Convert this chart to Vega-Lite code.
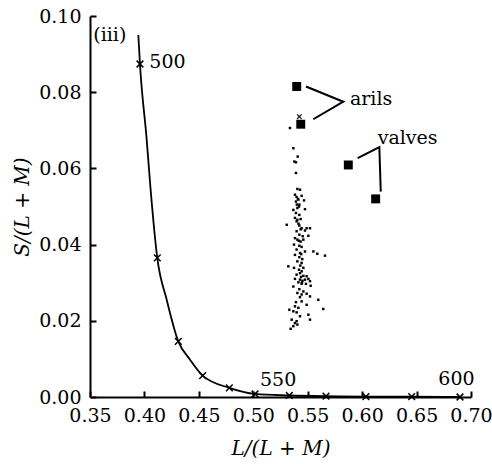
{
  "$schema": "https://vega.github.io/schema/vega-lite/v6.json",
  "width": 381,
  "height": 381,
  "autosize": {"type": "none"},
  "padding": {"left": 90, "top": 16, "right": 21, "bottom": 67},
  "background": "white",
  "config": {
    "view": {"stroke": null},
    "font": "DejaVu Serif",
    "axis": {
      "grid": false,
      "domainColor": "black",
      "domainWidth": 2,
      "tickColor": "black",
      "tickWidth": 2,
      "tickSize": -6,
      "labelPadding": 15,
      "labelOverlap": false,
      "labelFlush": false,
      "labelFont": "DejaVu Serif",
      "labelFontSize": 19,
      "labelColor": "black",
      "titleFont": "DejaVu Serif",
      "titleFontSize": 20,
      "titleFontStyle": "italic",
      "titleFontWeight": "normal",
      "titleColor": "black"
    }
  },
  "datasets": {
    "locus": [
      {"x": 0.3944, "y": 0.0950},
      {"x": 0.3959, "y": 0.0874},
      {"x": 0.4021, "y": 0.0675},
      {"x": 0.4057, "y": 0.0544},
      {"x": 0.4118, "y": 0.0365},
      {"x": 0.4204, "y": 0.0256},
      {"x": 0.4311, "y": 0.0146},
      {"x": 0.4419, "y": 0.0098},
      {"x": 0.4535, "y": 0.0056},
      {"x": 0.4780, "y": 0.0024},
      {"x": 0.5016, "y": 0.0008},
      {"x": 0.5331, "y": 0.0004},
      {"x": 0.5668, "y": 0.0002},
      {"x": 0.6035, "y": 0.0001},
      {"x": 0.6455, "y": 0.0001},
      {"x": 0.6899, "y": 0.0000}
    ],
    "wl": [
      {"nm": 500, "x": 0.3959, "y": 0.0874},
      {"nm": 510, "x": 0.4118, "y": 0.0365},
      {"nm": 520, "x": 0.4311, "y": 0.0146},
      {"nm": 530, "x": 0.4535, "y": 0.0056},
      {"nm": 540, "x": 0.4780, "y": 0.0024},
      {"nm": 550, "x": 0.5016, "y": 0.0008},
      {"nm": 560, "x": 0.5331, "y": 0.0004},
      {"nm": 570, "x": 0.5668, "y": 0.0002},
      {"nm": 580, "x": 0.6035, "y": 0.0001},
      {"nm": 590, "x": 0.6455, "y": 0.0001},
      {"nm": 600, "x": 0.6899, "y": 0.0000}
    ],
    "dots": [
      {"x": 0.5337, "y": 0.0706},
      {"x": 0.5368, "y": 0.0653}, {"x": 0.5408, "y": 0.0631}, {"x": 0.5377, "y": 0.0618}, {"x": 0.5392, "y": 0.0616},
      {"x": 0.5392, "y": 0.0588}, {"x": 0.5405, "y": 0.0546}, {"x": 0.5429, "y": 0.0544}, {"x": 0.5383, "y": 0.0531},
      {"x": 0.5398, "y": 0.0525}, {"x": 0.5414, "y": 0.0518}, {"x": 0.5444, "y": 0.0528}, {"x": 0.5392, "y": 0.0513},
      {"x": 0.5466, "y": 0.0516}, {"x": 0.5423, "y": 0.0505}, {"x": 0.5405, "y": 0.0496}, {"x": 0.5368, "y": 0.0491},
      {"x": 0.5475, "y": 0.0493}, {"x": 0.5392, "y": 0.0483}, {"x": 0.5423, "y": 0.0478}, {"x": 0.5383, "y": 0.0470},
      {"x": 0.5405, "y": 0.0465}, {"x": 0.5435, "y": 0.0467}, {"x": 0.5398, "y": 0.0461}, {"x": 0.5307, "y": 0.0452},
      {"x": 0.5423, "y": 0.0450}, {"x": 0.5444, "y": 0.0443}, {"x": 0.5490, "y": 0.0443}, {"x": 0.5521, "y": 0.0443},
      {"x": 0.5475, "y": 0.0437}, {"x": 0.5398, "y": 0.0435}, {"x": 0.5423, "y": 0.0426}, {"x": 0.5454, "y": 0.0422},
      {"x": 0.5506, "y": 0.0423}, {"x": 0.5383, "y": 0.0417}, {"x": 0.5405, "y": 0.0413}, {"x": 0.5435, "y": 0.0408},
      {"x": 0.5460, "y": 0.0413}, {"x": 0.5374, "y": 0.0400}, {"x": 0.5423, "y": 0.0397}, {"x": 0.5444, "y": 0.0394},
      {"x": 0.5398, "y": 0.0387}, {"x": 0.5429, "y": 0.0378}, {"x": 0.5475, "y": 0.0382}, {"x": 0.5552, "y": 0.0382},
      {"x": 0.5588, "y": 0.0376}, {"x": 0.5659, "y": 0.0371}, {"x": 0.5383, "y": 0.0373}, {"x": 0.5423, "y": 0.0367},
      {"x": 0.5450, "y": 0.0362}, {"x": 0.5405, "y": 0.0356}, {"x": 0.5444, "y": 0.0352}, {"x": 0.5322, "y": 0.0343},
      {"x": 0.5374, "y": 0.0339}, {"x": 0.5420, "y": 0.0334}, {"x": 0.5460, "y": 0.0339}, {"x": 0.5429, "y": 0.0325},
      {"x": 0.5398, "y": 0.0321}, {"x": 0.5460, "y": 0.0318}, {"x": 0.5490, "y": 0.0317}, {"x": 0.5383, "y": 0.0310},
      {"x": 0.5429, "y": 0.0308}, {"x": 0.5475, "y": 0.0308}, {"x": 0.5506, "y": 0.0310}, {"x": 0.5521, "y": 0.0304},
      {"x": 0.5414, "y": 0.0301}, {"x": 0.5444, "y": 0.0297}, {"x": 0.5484, "y": 0.0297}, {"x": 0.5368, "y": 0.0290},
      {"x": 0.5527, "y": 0.0292}, {"x": 0.5423, "y": 0.0283}, {"x": 0.5460, "y": 0.0277}, {"x": 0.5405, "y": 0.0273},
      {"x": 0.5444, "y": 0.0269}, {"x": 0.5490, "y": 0.0271}, {"x": 0.5429, "y": 0.0262}, {"x": 0.5521, "y": 0.0264},
      {"x": 0.5392, "y": 0.0249}, {"x": 0.5444, "y": 0.0251}, {"x": 0.5597, "y": 0.0255}, {"x": 0.5490, "y": 0.0242},
      {"x": 0.5383, "y": 0.0238}, {"x": 0.5414, "y": 0.0234}, {"x": 0.5643, "y": 0.0231}, {"x": 0.5331, "y": 0.0229},
      {"x": 0.5368, "y": 0.0225}, {"x": 0.5398, "y": 0.0222}, {"x": 0.5506, "y": 0.0216}, {"x": 0.5429, "y": 0.0212},
      {"x": 0.5353, "y": 0.0203}, {"x": 0.5398, "y": 0.0199}, {"x": 0.5521, "y": 0.0203}, {"x": 0.5383, "y": 0.0194},
      {"x": 0.5368, "y": 0.0186}, {"x": 0.5405, "y": 0.0190}, {"x": 0.5343, "y": 0.0179},
      {"x": 0.5410, "y": 0.0520}, {"x": 0.5420, "y": 0.0500}, {"x": 0.5415, "y": 0.0455}, {"x": 0.5435, "y": 0.0440},
      {"x": 0.5418, "y": 0.0410}, {"x": 0.5440, "y": 0.0375}, {"x": 0.5432, "y": 0.0345}, {"x": 0.5445, "y": 0.0330},
      {"x": 0.5438, "y": 0.0315}, {"x": 0.5452, "y": 0.0305}, {"x": 0.5400, "y": 0.0505}, {"x": 0.5447, "y": 0.0300}
    ],
    "samples": [
      {"x": 0.5399, "y": 0.0815, "grp": "arils"},
      {"x": 0.5436, "y": 0.0716, "grp": "arils"},
      {"x": 0.5873, "y": 0.0609, "grp": "valves"},
      {"x": 0.6124, "y": 0.0520, "grp": "valves"}
    ],
    "brackets": [
      {"grp": "a1", "ord": 1, "x": 0.5484, "y": 0.0815},
      {"grp": "a1", "ord": 2, "x": 0.5827, "y": 0.0775},
      {"grp": "a1", "ord": 3, "x": 0.5551, "y": 0.0729},
      {"grp": "v1", "ord": 1, "x": 0.5959, "y": 0.0627},
      {"grp": "v1", "ord": 2, "x": 0.6158, "y": 0.0656},
      {"grp": "v1", "ord": 3, "x": 0.6171, "y": 0.0539}
    ],
    "labels": [
      {"x": 0.353, "y": 0.0950, "t": "(iii)"},
      {"x": 0.4045, "y": 0.0880, "t": "500"},
      {"x": 0.5062, "y": 0.0044, "t": "550"},
      {"x": 0.6700, "y": 0.0046, "t": "600"},
      {"x": 0.5888, "y": 0.0782, "t": "arils"},
      {"x": 0.6143, "y": 0.0679, "t": "valves"}
    ],
    "mean": [
      {"x": 0.5423, "y": 0.0736}
    ]
  },
  "encoding": {
    "x": {
      "field": "x", "type": "quantitative",
      "scale": {"domain": [0.35, 0.70], "nice": false, "zero": false},
      "axis": {"values": [0.35, 0.40, 0.45, 0.50, 0.55, 0.60, 0.65, 0.70], "format": ".2f", "title": "L/(L + M)", "titlePadding": 13}
    },
    "y": {
      "field": "y", "type": "quantitative",
      "scale": {"domain": [0, 0.10], "nice": false, "zero": false},
      "axis": {"values": [0, 0.02, 0.04, 0.06, 0.08, 0.10], "format": ".2f", "title": "S/(L + M)", "titlePadding": 6}
    }
  },
  "layer": [
    {
      "data": {"name": "locus"},
      "mark": {"type": "line", "color": "black", "strokeWidth": 1.8, "interpolate": "monotone"}
    },
    {
      "data": {"name": "wl"},
      "mark": {"type": "point", "shape": "M-1,-1L1,1M-1,1L1,-1", "filled": false, "color": "black", "strokeWidth": 1.5, "size": 45, "opacity": 1}
    },
    {
      "data": {"name": "mean"},
      "mark": {"type": "point", "shape": "M-1,-1L1,1M-1,1L1,-1", "filled": false, "color": "black", "strokeWidth": 1.2, "size": 20, "opacity": 1}
    },
    {
      "data": {"name": "dots"},
      "mark": {"type": "square", "size": 6, "color": "black", "opacity": 1}
    },
    {
      "data": {"name": "samples"},
      "mark": {"type": "square", "size": 80, "color": "black", "opacity": 1}
    },
    {
      "data": {"name": "brackets"},
      "mark": {"type": "line", "color": "black", "strokeWidth": 2},
      "encoding": {"detail": {"field": "grp"}, "order": {"field": "ord"}}
    },
    {
      "data": {"name": "labels"},
      "mark": {"type": "text", "align": "left", "baseline": "middle", "font": "DejaVu Serif", "fontSize": 19, "color": "black"},
      "encoding": {"text": {"field": "t"}}
    }
  ]
}
